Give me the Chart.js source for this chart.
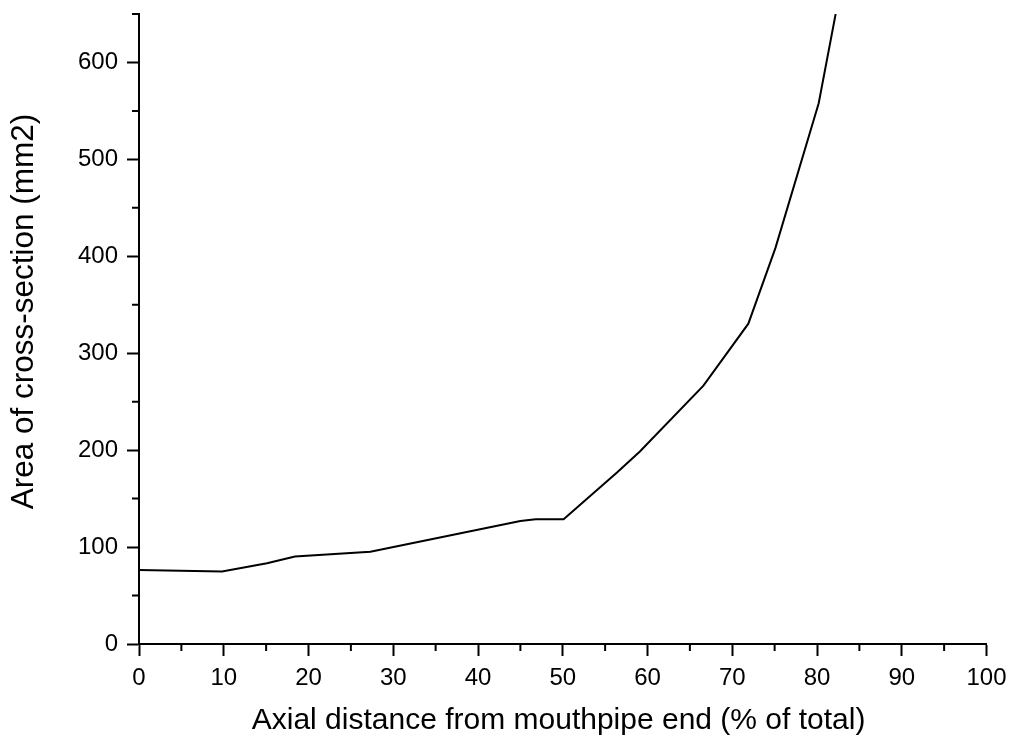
<!DOCTYPE html>
<html>
<head>
<meta charset="utf-8">
<script src="https://cdn.jsdelivr.net/npm/chart.js"></script>
<style>
  html, body { margin: 0; padding: 0; background: #fff; }
  #wrap { width: 1011px; height: 736px; }
</style>
</head>
<body>
<div id="wrap"><canvas id="chart" width="1011" height="736"></canvas></div>
<script>
// axial position (% of total length) and cross-section area (mm2)
const axialPos = [0, 9.8, 15.1, 18.4, 27.3, 45.0, 46.8, 50.1, 56.4, 59.1, 66.6, 71.9, 75.1, 80.2, 82.2];
const areaMm2  = [76.4, 74.7, 83.3, 90.2, 95.3, 127, 128.8, 128.8, 177, 198.6, 266.5, 330.5, 408.7, 558, 650];

const xTitle = 'Axial distance from mouthpipe end (% of total)';
const yTitle = 'Area of cross-section (mm2)';

const FONT = '"Liberation Sans", Arial, sans-serif';

// minor ticks are shorter than the major ones, chart.js can't do that so draw them here
const minorTicks = {
    id: 'minorTicks',
    afterDraw(chart) {
        const ctx = chart.ctx;
        const xs = chart.scales.x, ys = chart.scales.y;
        ctx.save();
        ctx.strokeStyle = '#000';
        ctx.lineWidth = 2;
        ctx.beginPath();
        xs.ticks.forEach(t => {
            if (t.value % 10 !== 0) {
                const px = xs.getPixelForValue(t.value);
                ctx.moveTo(px, xs.top);
                ctx.lineTo(px, xs.top + 7);
            }
        });
        ys.ticks.forEach(t => {
            if (t.value % 100 !== 0) {
                const py = ys.getPixelForValue(t.value);
                ctx.moveTo(ys.right, py);
                ctx.lineTo(ys.right - 7, py);
            }
        });
        ctx.stroke();
        ctx.restore();
    }
};

new Chart(document.getElementById('chart').getContext('2d'), {
    type: 'line',
    data: {
        datasets: [{
            data: axialPos.map((x, i) => ({ x: x, y: areaMm2[i] })),
            borderColor: '#000',
            borderWidth: 2,
            pointRadius: 0,
            tension: 0,
            fill: false
        }]
    },
    options: {
        responsive: false,
        animation: false,
        layout: { padding: { left: 0, right: 24.5, top: 14, bottom: 0 } },
        plugins: { legend: { display: false }, tooltip: { enabled: false } },
        scales: {
            x: {
                type: 'linear',
                min: 0, max: 100,
                afterFit: s => { s.height = 92; s.paddingLeft = 0; s.paddingRight = 0; },
                border: { display: true, color: '#000', width: 2 },
                grid: {
                    drawOnChartArea: false,
                    tickLength: 12,
                    tickWidth: 2,
                    tickColor: c => (c.tick && c.tick.value % 10 === 0 ? '#000' : 'rgba(0,0,0,0)')
                },
                ticks: {
                    stepSize: 5,
                    autoSkip: false,
                    maxRotation: 0,
                    padding: 8,
                    color: '#000',
                    font: { family: FONT, size: 24 },
                    callback: v => (v % 10 === 0 ? String(v) : '')
                },
                title: {
                    display: true,
                    text: xTitle + ' ',
                    color: '#000',
                    font: { family: FONT, size: 30 },
                    padding: { top: 0, bottom: -3 }
                }
            },
            y: {
                min: 0, max: 650,
                afterFit: s => { s.width = 139; s.paddingTop = 0; s.paddingBottom = 0; },
                border: { display: true, color: '#000', width: 2 },
                grid: {
                    drawOnChartArea: false,
                    tickLength: 12,
                    tickWidth: 2,
                    tickColor: c => (c.tick && c.tick.value % 100 === 0 ? '#000' : 'rgba(0,0,0,0)')
                },
                ticks: {
                    stepSize: 50,
                    autoSkip: false,
                    padding: 9,
                    color: '#000',
                    font: { family: FONT, size: 24 },
                    callback: v => (v % 100 === 0 ? String(v) : '')
                },
                title: {
                    display: true,
                    text: '    ' + yTitle,
                    color: '#000',
                    font: { family: FONT, size: 31.5 },
                    padding: { top: 5, bottom: 0 }
                }
            }
        }
    },
    plugins: [minorTicks]
});
</script>
</body>
</html>
